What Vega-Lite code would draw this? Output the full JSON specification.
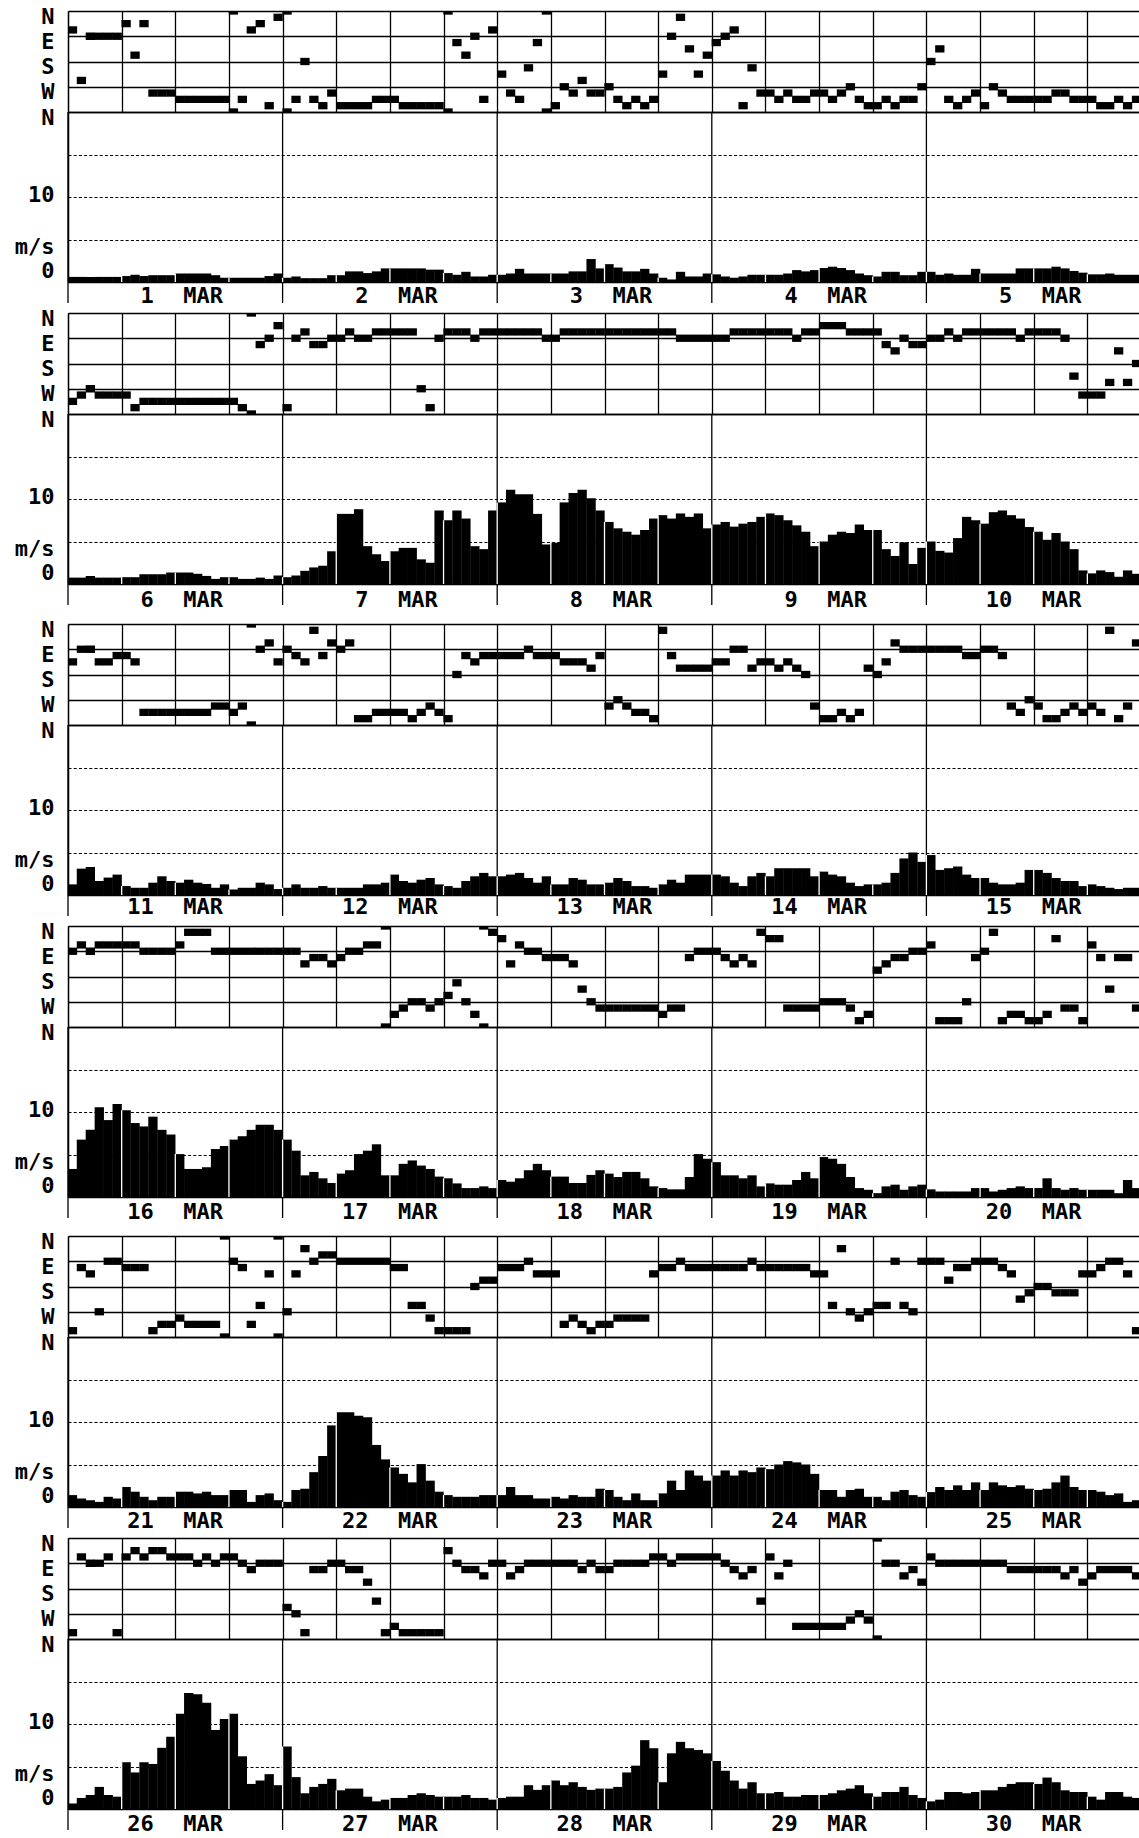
{"$schema":"https://vega.github.io/schema/vega-lite/v6.json","background":"white","padding":{"left":14,"top":5,"right":0,"bottom":0},"config":{"view":{"stroke":null},"axis":{"domainColor":"black","domainWidth":1.3,"gridColor":"black","gridWidth":1.3,"labelColor":"black","labelFont":"DejaVu Sans Mono","labelFontWeight":"bold","labelFontSize":22,"labelPadding":14,"labelBound":false,"labelOverlap":false,"labelFlush":false,"ticks":false,"title":null}},
"datasets":{
"days":[{"h":0},{"h":24},{"h":48},{"h":72},{"h":96}],
"labels":[{"p":1,"day":"1","m":"MAR","a":9.6,"b":12.9},{"p":1,"day":"2","m":"MAR","a":33.6,"b":36.9},{"p":1,"day":"3","m":"MAR","a":57.6,"b":60.9},{"p":1,"day":"4","m":"MAR","a":81.6,"b":84.9},{"p":1,"day":"5","m":"MAR","a":105.6,"b":108.9},{"p":2,"day":"6","m":"MAR","a":9.6,"b":12.9},{"p":2,"day":"7","m":"MAR","a":33.6,"b":36.9},{"p":2,"day":"8","m":"MAR","a":57.6,"b":60.9},{"p":2,"day":"9","m":"MAR","a":81.6,"b":84.9},{"p":2,"day":"10","m":"MAR","a":105.6,"b":108.9},{"p":3,"day":"11","m":"MAR","a":9.6,"b":12.9},{"p":3,"day":"12","m":"MAR","a":33.6,"b":36.9},{"p":3,"day":"13","m":"MAR","a":57.6,"b":60.9},{"p":3,"day":"14","m":"MAR","a":81.6,"b":84.9},{"p":3,"day":"15","m":"MAR","a":105.6,"b":108.9},{"p":4,"day":"16","m":"MAR","a":9.6,"b":12.9},{"p":4,"day":"17","m":"MAR","a":33.6,"b":36.9},{"p":4,"day":"18","m":"MAR","a":57.6,"b":60.9},{"p":4,"day":"19","m":"MAR","a":81.6,"b":84.9},{"p":4,"day":"20","m":"MAR","a":105.6,"b":108.9},{"p":5,"day":"21","m":"MAR","a":9.6,"b":12.9},{"p":5,"day":"22","m":"MAR","a":33.6,"b":36.9},{"p":5,"day":"23","m":"MAR","a":57.6,"b":60.9},{"p":5,"day":"24","m":"MAR","a":81.6,"b":84.9},{"p":5,"day":"25","m":"MAR","a":105.6,"b":108.9},{"p":6,"day":"26","m":"MAR","a":9.6,"b":12.9},{"p":6,"day":"27","m":"MAR","a":33.6,"b":36.9},{"p":6,"day":"28","m":"MAR","a":57.6,"b":60.9},{"p":6,"day":"29","m":"MAR","a":81.6,"b":84.9},{"p":6,"day":"30","m":"MAR","a":105.6,"b":108.9}],
"d1":[{"h":0,"k":3},{"h":1,"k":11},{"h":2,"k":4},{"h":3,"k":4},{"h":4,"k":4},{"h":5,"k":4},{"h":6,"k":2},{"h":7,"k":7},{"h":8,"k":2},{"h":9,"k":13},{"h":10,"k":13},{"h":11,"k":13},{"h":12,"k":14},{"h":13,"k":14},{"h":14,"k":14},{"h":15,"k":14},{"h":16,"k":14},{"h":17,"k":14},{"h":18,"k":0},{"h":18,"k":16},{"h":19,"k":14},{"h":20,"k":3},{"h":21,"k":2},{"h":22,"k":15},{"h":23,"k":1},{"h":24,"k":0},{"h":24,"k":16},{"h":25,"k":14},{"h":26,"k":8},{"h":27,"k":14},{"h":28,"k":15},{"h":29,"k":13},{"h":30,"k":15},{"h":31,"k":15},{"h":32,"k":15},{"h":33,"k":15},{"h":34,"k":14},{"h":35,"k":14},{"h":36,"k":14},{"h":37,"k":15},{"h":38,"k":15},{"h":39,"k":15},{"h":40,"k":15},{"h":41,"k":15},{"h":42,"k":0},{"h":42,"k":16},{"h":43,"k":5},{"h":44,"k":7},{"h":45,"k":4},{"h":46,"k":14},{"h":47,"k":3},{"h":48,"k":10},{"h":49,"k":13},{"h":50,"k":14},{"h":51,"k":9},{"h":52,"k":5},{"h":53,"k":0},{"h":53,"k":16},{"h":54,"k":15},{"h":55,"k":12},{"h":56,"k":13},{"h":57,"k":11},{"h":58,"k":13},{"h":59,"k":13},{"h":60,"k":12},{"h":61,"k":14},{"h":62,"k":15},{"h":63,"k":14},{"h":64,"k":15},{"h":65,"k":14},{"h":66,"k":10},{"h":67,"k":4},{"h":68,"k":1},{"h":69,"k":6},{"h":70,"k":10},{"h":71,"k":7},{"h":72,"k":5},{"h":73,"k":4},{"h":74,"k":3},{"h":75,"k":15},{"h":76,"k":9},{"h":77,"k":13},{"h":78,"k":13},{"h":79,"k":14},{"h":80,"k":13},{"h":81,"k":14},{"h":82,"k":14},{"h":83,"k":13},{"h":84,"k":13},{"h":85,"k":14},{"h":86,"k":13},{"h":87,"k":12},{"h":88,"k":14},{"h":89,"k":15},{"h":90,"k":15},{"h":91,"k":14},{"h":92,"k":15},{"h":93,"k":14},{"h":94,"k":14},{"h":95,"k":12},{"h":96,"k":8},{"h":97,"k":6},{"h":98,"k":14},{"h":99,"k":15},{"h":100,"k":14},{"h":101,"k":13},{"h":102,"k":15},{"h":103,"k":12},{"h":104,"k":13},{"h":105,"k":14},{"h":106,"k":14},{"h":107,"k":14},{"h":108,"k":14},{"h":109,"k":14},{"h":110,"k":13},{"h":111,"k":13},{"h":112,"k":14},{"h":113,"k":14},{"h":114,"k":14},{"h":115,"k":15},{"h":116,"k":15},{"h":117,"k":14},{"h":118,"k":15},{"h":119,"k":14}],
"s1":[{"h":0,"v":0.6},{"h":1,"v":0.6},{"h":2,"v":0.6},{"h":3,"v":0.6},{"h":4,"v":0.6},{"h":5,"v":0.6},{"h":6,"v":0.7},{"h":7,"v":0.85},{"h":8,"v":0.7},{"h":9,"v":0.8},{"h":10,"v":0.8},{"h":11,"v":0.8},{"h":12,"v":1},{"h":13,"v":1},{"h":14,"v":1},{"h":15,"v":1},{"h":16,"v":0.8},{"h":17,"v":0.5},{"h":18,"v":0.5},{"h":19,"v":0.5},{"h":20,"v":0.5},{"h":21,"v":0.5},{"h":22,"v":0.7},{"h":23,"v":1},{"h":24,"v":0.5},{"h":25,"v":0.65},{"h":26,"v":0.45},{"h":27,"v":0.45},{"h":28,"v":0.45},{"h":29,"v":0.8},{"h":30,"v":0.8},{"h":31,"v":1.25},{"h":32,"v":1.25},{"h":33,"v":1.05},{"h":34,"v":1.25},{"h":35,"v":1.6},{"h":36,"v":1.6},{"h":37,"v":1.6},{"h":38,"v":1.6},{"h":39,"v":1.6},{"h":40,"v":1.45},{"h":41,"v":1.45},{"h":42,"v":1.05},{"h":43,"v":0.85},{"h":44,"v":1.2},{"h":45,"v":0.65},{"h":46,"v":0.65},{"h":47,"v":0.85},{"h":48,"v":0.85},{"h":49,"v":1},{"h":50,"v":1.55},{"h":51,"v":1},{"h":52,"v":1},{"h":53,"v":1},{"h":54,"v":1},{"h":55,"v":1},{"h":56,"v":1.25},{"h":57,"v":1.25},{"h":58,"v":2.7},{"h":59,"v":1.6},{"h":60,"v":2.1},{"h":61,"v":1.7},{"h":62,"v":1.25},{"h":63,"v":1.25},{"h":64,"v":1.55},{"h":65,"v":1},{"h":66,"v":0.5},{"h":67,"v":0.3},{"h":68,"v":1.2},{"h":69,"v":0.65},{"h":70,"v":0.65},{"h":71,"v":1},{"h":72,"v":0.9},{"h":73,"v":0.65},{"h":74,"v":0.5},{"h":75,"v":0.65},{"h":76,"v":0.85},{"h":77,"v":0.85},{"h":78,"v":0.85},{"h":79,"v":0.85},{"h":80,"v":1},{"h":81,"v":1.4},{"h":82,"v":1.25},{"h":83,"v":1.4},{"h":84,"v":1.65},{"h":85,"v":1.8},{"h":86,"v":1.65},{"h":87,"v":1.4},{"h":88,"v":1},{"h":89,"v":0.8},{"h":90,"v":0.65},{"h":91,"v":1.2},{"h":92,"v":1.2},{"h":93,"v":0.8},{"h":94,"v":0.8},{"h":95,"v":1.2},{"h":96,"v":1.2},{"h":97,"v":0.85},{"h":98,"v":1},{"h":99,"v":0.85},{"h":100,"v":0.85},{"h":101,"v":1.55},{"h":102,"v":1},{"h":103,"v":1},{"h":104,"v":1},{"h":105,"v":1},{"h":106,"v":1.6},{"h":107,"v":1.6},{"h":108,"v":1.6},{"h":109,"v":1.6},{"h":110,"v":1.8},{"h":111,"v":1.6},{"h":112,"v":1.3},{"h":113,"v":1.1},{"h":114,"v":0.9},{"h":115,"v":0.9},{"h":116,"v":1},{"h":117,"v":0.85},{"h":118,"v":0.85},{"h":119,"v":0.85}],
"d2":[{"h":0,"k":14},{"h":1,"k":13},{"h":2,"k":12},{"h":3,"k":13},{"h":4,"k":13},{"h":5,"k":13},{"h":6,"k":13},{"h":7,"k":15},{"h":8,"k":14},{"h":9,"k":14},{"h":10,"k":14},{"h":11,"k":14},{"h":12,"k":14},{"h":13,"k":14},{"h":14,"k":14},{"h":15,"k":14},{"h":16,"k":14},{"h":17,"k":14},{"h":18,"k":14},{"h":19,"k":15},{"h":20,"k":0},{"h":20,"k":16},{"h":21,"k":5},{"h":22,"k":4},{"h":23,"k":2},{"h":24,"k":15},{"h":25,"k":4},{"h":26,"k":3},{"h":27,"k":5},{"h":28,"k":5},{"h":29,"k":4},{"h":30,"k":4},{"h":31,"k":3},{"h":32,"k":4},{"h":33,"k":4},{"h":34,"k":3},{"h":35,"k":3},{"h":36,"k":3},{"h":37,"k":3},{"h":38,"k":3},{"h":39,"k":12},{"h":40,"k":15},{"h":41,"k":4},{"h":42,"k":3},{"h":43,"k":3},{"h":44,"k":3},{"h":45,"k":4},{"h":46,"k":3},{"h":47,"k":3},{"h":48,"k":3},{"h":49,"k":3},{"h":50,"k":3},{"h":51,"k":3},{"h":52,"k":3},{"h":53,"k":4},{"h":54,"k":4},{"h":55,"k":3},{"h":56,"k":3},{"h":57,"k":3},{"h":58,"k":3},{"h":59,"k":3},{"h":60,"k":3},{"h":61,"k":3},{"h":62,"k":3},{"h":63,"k":3},{"h":64,"k":3},{"h":65,"k":3},{"h":66,"k":3},{"h":67,"k":3},{"h":68,"k":4},{"h":69,"k":4},{"h":70,"k":4},{"h":71,"k":4},{"h":72,"k":4},{"h":73,"k":4},{"h":74,"k":3},{"h":75,"k":3},{"h":76,"k":3},{"h":77,"k":3},{"h":78,"k":3},{"h":79,"k":3},{"h":80,"k":3},{"h":81,"k":4},{"h":82,"k":3},{"h":83,"k":3},{"h":84,"k":2},{"h":85,"k":2},{"h":86,"k":2},{"h":87,"k":3},{"h":88,"k":3},{"h":89,"k":3},{"h":90,"k":3},{"h":91,"k":5},{"h":92,"k":6},{"h":93,"k":4},{"h":94,"k":5},{"h":95,"k":5},{"h":96,"k":4},{"h":97,"k":4},{"h":98,"k":3},{"h":99,"k":4},{"h":100,"k":3},{"h":101,"k":3},{"h":102,"k":3},{"h":103,"k":3},{"h":104,"k":3},{"h":105,"k":3},{"h":106,"k":4},{"h":107,"k":3},{"h":108,"k":3},{"h":109,"k":3},{"h":110,"k":3},{"h":111,"k":4},{"h":112,"k":10},{"h":113,"k":13},{"h":114,"k":13},{"h":115,"k":13},{"h":116,"k":11},{"h":117,"k":6},{"h":118,"k":11},{"h":119,"k":8}],
"s2":[{"h":0,"v":0.75},{"h":1,"v":0.75},{"h":2,"v":0.95},{"h":3,"v":0.75},{"h":4,"v":0.75},{"h":5,"v":0.75},{"h":6,"v":0.8},{"h":7,"v":0.8},{"h":8,"v":1.15},{"h":9,"v":1.15},{"h":10,"v":1.15},{"h":11,"v":1.35},{"h":12,"v":1.35},{"h":13,"v":1.35},{"h":14,"v":1.2},{"h":15,"v":0.95},{"h":16,"v":0.6},{"h":17,"v":0.8},{"h":18,"v":0.8},{"h":19,"v":0.6},{"h":20,"v":0.6},{"h":21,"v":0.75},{"h":22,"v":0.6},{"h":23,"v":1},{"h":24,"v":0.8},{"h":25,"v":1},{"h":26,"v":1.55},{"h":27,"v":1.95},{"h":28,"v":2.15},{"h":29,"v":3.85},{"h":30,"v":8.25},{"h":31,"v":8.25},{"h":32,"v":8.8},{"h":33,"v":4.45},{"h":34,"v":3.5},{"h":35,"v":2.7},{"h":36,"v":3.85},{"h":37,"v":4.25},{"h":38,"v":4.25},{"h":39,"v":2.9},{"h":40,"v":2.5},{"h":41,"v":8.65},{"h":42,"v":7.5},{"h":43,"v":8.65},{"h":44,"v":7.7},{"h":45,"v":4.45},{"h":46,"v":4.1},{"h":47,"v":8.65},{"h":48,"v":9.6},{"h":49,"v":11.1},{"h":50,"v":10.55},{"h":51,"v":10.55},{"h":52,"v":8.25},{"h":53,"v":4.65},{"h":54,"v":4.85},{"h":55,"v":9.6},{"h":56,"v":10.7},{"h":57,"v":11.1},{"h":58,"v":10.1},{"h":59,"v":8.65},{"h":60,"v":7.3},{"h":61,"v":6.55},{"h":62,"v":6.15},{"h":63,"v":5.8},{"h":64,"v":6.35},{"h":65,"v":7.7},{"h":66,"v":8.1},{"h":67,"v":7.7},{"h":68,"v":8.3},{"h":69,"v":7.9},{"h":70,"v":8.3},{"h":71,"v":6.55},{"h":72,"v":7},{"h":73,"v":7.3},{"h":74,"v":6.75},{"h":75,"v":7.1},{"h":76,"v":7.3},{"h":77,"v":7.9},{"h":78,"v":8.3},{"h":79,"v":8.1},{"h":80,"v":7.5},{"h":81,"v":6.9},{"h":82,"v":6.15},{"h":83,"v":4.45},{"h":84,"v":5},{"h":85,"v":5.8},{"h":86,"v":6.15},{"h":87,"v":6},{"h":88,"v":7},{"h":89,"v":6.35},{"h":90,"v":6.35},{"h":91,"v":4.1},{"h":92,"v":3.3},{"h":93,"v":4.9},{"h":94,"v":2.35},{"h":95,"v":4.25},{"h":96,"v":5},{"h":97,"v":3.9},{"h":98,"v":3.7},{"h":99,"v":5.4},{"h":100,"v":7.9},{"h":101,"v":7.5},{"h":102,"v":7.1},{"h":103,"v":8.45},{"h":104,"v":8.65},{"h":105,"v":8.1},{"h":106,"v":7.7},{"h":107,"v":6.7},{"h":108,"v":6.15},{"h":109,"v":5.2},{"h":110,"v":6},{"h":111,"v":5},{"h":112,"v":4.1},{"h":113,"v":1.6},{"h":114,"v":1.25},{"h":115,"v":1.6},{"h":116,"v":1.4},{"h":117,"v":0.85},{"h":118,"v":1.6},{"h":119,"v":1.2}],
"d3":[{"h":0,"k":6},{"h":1,"k":4},{"h":2,"k":4},{"h":3,"k":6},{"h":4,"k":6},{"h":5,"k":5},{"h":6,"k":5},{"h":7,"k":6},{"h":8,"k":14},{"h":9,"k":14},{"h":10,"k":14},{"h":11,"k":14},{"h":12,"k":14},{"h":13,"k":14},{"h":14,"k":14},{"h":15,"k":14},{"h":16,"k":13},{"h":17,"k":13},{"h":18,"k":14},{"h":19,"k":13},{"h":20,"k":0},{"h":20,"k":16},{"h":21,"k":4},{"h":22,"k":3},{"h":23,"k":6},{"h":24,"k":4},{"h":25,"k":5},{"h":26,"k":6},{"h":27,"k":1},{"h":28,"k":5},{"h":29,"k":3},{"h":30,"k":4},{"h":31,"k":3},{"h":32,"k":15},{"h":33,"k":15},{"h":34,"k":14},{"h":35,"k":14},{"h":36,"k":14},{"h":37,"k":14},{"h":38,"k":15},{"h":39,"k":14},{"h":40,"k":13},{"h":41,"k":14},{"h":42,"k":15},{"h":43,"k":8},{"h":44,"k":5},{"h":45,"k":6},{"h":46,"k":5},{"h":47,"k":5},{"h":48,"k":5},{"h":49,"k":5},{"h":50,"k":5},{"h":51,"k":4},{"h":52,"k":5},{"h":53,"k":5},{"h":54,"k":5},{"h":55,"k":6},{"h":56,"k":6},{"h":57,"k":6},{"h":58,"k":7},{"h":59,"k":5},{"h":60,"k":13},{"h":61,"k":12},{"h":62,"k":13},{"h":63,"k":14},{"h":64,"k":14},{"h":65,"k":15},{"h":66,"k":1},{"h":67,"k":5},{"h":68,"k":7},{"h":69,"k":7},{"h":70,"k":7},{"h":71,"k":7},{"h":72,"k":6},{"h":73,"k":6},{"h":74,"k":4},{"h":75,"k":4},{"h":76,"k":7},{"h":77,"k":6},{"h":78,"k":6},{"h":79,"k":7},{"h":80,"k":6},{"h":81,"k":7},{"h":82,"k":8},{"h":83,"k":13},{"h":84,"k":15},{"h":85,"k":15},{"h":86,"k":14},{"h":87,"k":15},{"h":88,"k":14},{"h":89,"k":7},{"h":90,"k":8},{"h":91,"k":6},{"h":92,"k":3},{"h":93,"k":4},{"h":94,"k":4},{"h":95,"k":4},{"h":96,"k":4},{"h":97,"k":4},{"h":98,"k":4},{"h":99,"k":4},{"h":100,"k":5},{"h":101,"k":5},{"h":102,"k":4},{"h":103,"k":4},{"h":104,"k":5},{"h":105,"k":13},{"h":106,"k":14},{"h":107,"k":12},{"h":108,"k":13},{"h":109,"k":15},{"h":110,"k":15},{"h":111,"k":14},{"h":112,"k":13},{"h":113,"k":14},{"h":114,"k":13},{"h":115,"k":14},{"h":116,"k":1},{"h":117,"k":15},{"h":118,"k":13},{"h":119,"k":3}],
"s3":[{"h":0,"v":1.25},{"h":1,"v":3.1},{"h":2,"v":3.3},{"h":3,"v":1.65},{"h":4,"v":2.05},{"h":5,"v":2.4},{"h":6,"v":1.05},{"h":7,"v":0.85},{"h":8,"v":0.85},{"h":9,"v":1.45},{"h":10,"v":2.2},{"h":11,"v":1.65},{"h":12,"v":1.45},{"h":13,"v":1.8},{"h":14,"v":1.45},{"h":15,"v":1.3},{"h":16,"v":0.85},{"h":17,"v":1.25},{"h":18,"v":0.65},{"h":19,"v":0.85},{"h":20,"v":0.85},{"h":21,"v":1.45},{"h":22,"v":1.25},{"h":23,"v":0.7},{"h":24,"v":0.85},{"h":25,"v":1.25},{"h":26,"v":0.85},{"h":27,"v":0.85},{"h":28,"v":1.05},{"h":29,"v":0.85},{"h":30,"v":0.85},{"h":31,"v":0.85},{"h":32,"v":0.85},{"h":33,"v":1.25},{"h":34,"v":1.25},{"h":35,"v":1.45},{"h":36,"v":2.4},{"h":37,"v":1.65},{"h":38,"v":1.45},{"h":39,"v":1.8},{"h":40,"v":2},{"h":41,"v":1.25},{"h":42,"v":1.05},{"h":43,"v":0.85},{"h":44,"v":1.65},{"h":45,"v":2.2},{"h":46,"v":2.6},{"h":47,"v":2.2},{"h":48,"v":2.2},{"h":49,"v":2.4},{"h":50,"v":2.6},{"h":51,"v":2},{"h":52,"v":1.45},{"h":53,"v":2.2},{"h":54,"v":1.25},{"h":55,"v":1.25},{"h":56,"v":2},{"h":57,"v":1.8},{"h":58,"v":1.25},{"h":59,"v":1.25},{"h":60,"v":1.45},{"h":61,"v":2},{"h":62,"v":1.65},{"h":63,"v":1.05},{"h":64,"v":1.05},{"h":65,"v":0.85},{"h":66,"v":1.25},{"h":67,"v":1.8},{"h":68,"v":1.45},{"h":69,"v":2.4},{"h":70,"v":2.4},{"h":71,"v":2.4},{"h":72,"v":2.4},{"h":73,"v":2.2},{"h":74,"v":1.45},{"h":75,"v":1.05},{"h":76,"v":2.2},{"h":77,"v":2.6},{"h":78,"v":2.2},{"h":79,"v":3.15},{"h":80,"v":3.15},{"h":81,"v":3.15},{"h":82,"v":3.15},{"h":83,"v":2.2},{"h":84,"v":2.75},{"h":85,"v":2.4},{"h":86,"v":2.2},{"h":87,"v":1.45},{"h":88,"v":1.05},{"h":89,"v":1.25},{"h":90,"v":1.25},{"h":91,"v":1.45},{"h":92,"v":2.6},{"h":93,"v":4.3},{"h":94,"v":5},{"h":95,"v":3.9},{"h":96,"v":4.7},{"h":97,"v":2.95},{"h":98,"v":3.15},{"h":99,"v":3.35},{"h":100,"v":2.4},{"h":101,"v":2},{"h":102,"v":2},{"h":103,"v":1.45},{"h":104,"v":1.25},{"h":105,"v":1.25},{"h":106,"v":1.45},{"h":107,"v":2.95},{"h":108,"v":2.95},{"h":109,"v":2.6},{"h":110,"v":2},{"h":111,"v":1.65},{"h":112,"v":1.65},{"h":113,"v":1.05},{"h":114,"v":1.25},{"h":115,"v":1.05},{"h":116,"v":0.85},{"h":117,"v":0.7},{"h":118,"v":0.85},{"h":119,"v":0.85}],
"d4":[{"h":0,"k":4},{"h":1,"k":3},{"h":2,"k":4},{"h":3,"k":3},{"h":4,"k":3},{"h":5,"k":3},{"h":6,"k":3},{"h":7,"k":3},{"h":8,"k":4},{"h":9,"k":4},{"h":10,"k":4},{"h":11,"k":4},{"h":12,"k":3},{"h":13,"k":1},{"h":14,"k":1},{"h":15,"k":1},{"h":16,"k":4},{"h":17,"k":4},{"h":18,"k":4},{"h":19,"k":4},{"h":20,"k":4},{"h":21,"k":4},{"h":22,"k":4},{"h":23,"k":4},{"h":24,"k":4},{"h":25,"k":4},{"h":26,"k":6},{"h":27,"k":5},{"h":28,"k":5},{"h":29,"k":6},{"h":30,"k":5},{"h":31,"k":4},{"h":32,"k":4},{"h":33,"k":3},{"h":34,"k":3},{"h":35,"k":0},{"h":35,"k":16},{"h":36,"k":14},{"h":37,"k":13},{"h":38,"k":12},{"h":39,"k":12},{"h":40,"k":13},{"h":41,"k":12},{"h":42,"k":11},{"h":43,"k":9},{"h":44,"k":12},{"h":45,"k":14},{"h":46,"k":0},{"h":46,"k":16},{"h":47,"k":1},{"h":48,"k":2},{"h":49,"k":6},{"h":50,"k":3},{"h":51,"k":4},{"h":52,"k":4},{"h":53,"k":5},{"h":54,"k":5},{"h":55,"k":5},{"h":56,"k":6},{"h":57,"k":10},{"h":58,"k":12},{"h":59,"k":13},{"h":60,"k":13},{"h":61,"k":13},{"h":62,"k":13},{"h":63,"k":13},{"h":64,"k":13},{"h":65,"k":13},{"h":66,"k":14},{"h":67,"k":13},{"h":68,"k":13},{"h":69,"k":5},{"h":70,"k":4},{"h":71,"k":4},{"h":72,"k":4},{"h":73,"k":5},{"h":74,"k":6},{"h":75,"k":5},{"h":76,"k":6},{"h":77,"k":1},{"h":78,"k":2},{"h":79,"k":2},{"h":80,"k":13},{"h":81,"k":13},{"h":82,"k":13},{"h":83,"k":13},{"h":84,"k":12},{"h":85,"k":12},{"h":86,"k":12},{"h":87,"k":13},{"h":88,"k":15},{"h":89,"k":14},{"h":90,"k":7},{"h":91,"k":6},{"h":92,"k":5},{"h":93,"k":5},{"h":94,"k":4},{"h":95,"k":4},{"h":96,"k":3},{"h":97,"k":15},{"h":98,"k":15},{"h":99,"k":15},{"h":100,"k":12},{"h":101,"k":5},{"h":102,"k":4},{"h":103,"k":1},{"h":104,"k":15},{"h":105,"k":14},{"h":106,"k":14},{"h":107,"k":15},{"h":108,"k":15},{"h":109,"k":14},{"h":110,"k":2},{"h":111,"k":13},{"h":112,"k":13},{"h":113,"k":15},{"h":114,"k":3},{"h":115,"k":5},{"h":116,"k":10},{"h":117,"k":5},{"h":118,"k":5},{"h":119,"k":13}],
"s4":[{"h":0,"v":3.3},{"h":1,"v":6.75},{"h":2,"v":7.9},{"h":3,"v":10.55},{"h":4,"v":9.05},{"h":5,"v":10.95},{"h":6,"v":10.2},{"h":7,"v":8.7},{"h":8,"v":8.3},{"h":9,"v":9.45},{"h":10,"v":7.9},{"h":11,"v":7.35},{"h":12,"v":5.05},{"h":13,"v":3.3},{"h":14,"v":3.3},{"h":15,"v":3.5},{"h":16,"v":5.65},{"h":17,"v":6},{"h":18,"v":6.75},{"h":19,"v":7.15},{"h":20,"v":7.9},{"h":21,"v":8.5},{"h":22,"v":8.5},{"h":23,"v":7.9},{"h":24,"v":6.75},{"h":25,"v":5.45},{"h":26,"v":2.55},{"h":27,"v":2.95},{"h":28,"v":2.2},{"h":29,"v":1.65},{"h":30,"v":2.75},{"h":31,"v":3.15},{"h":32,"v":5.05},{"h":33,"v":5.45},{"h":34,"v":6.2},{"h":35,"v":2.55},{"h":36,"v":2.55},{"h":37,"v":3.9},{"h":38,"v":4.3},{"h":39,"v":3.7},{"h":40,"v":3.3},{"h":41,"v":2.4},{"h":42,"v":2.2},{"h":43,"v":1.6},{"h":44,"v":1.05},{"h":45,"v":1.05},{"h":46,"v":1.25},{"h":47,"v":1.05},{"h":48,"v":2},{"h":49,"v":1.8},{"h":50,"v":2.2},{"h":51,"v":3.15},{"h":52,"v":3.9},{"h":53,"v":3.15},{"h":54,"v":2.4},{"h":55,"v":2.4},{"h":56,"v":1.65},{"h":57,"v":1.65},{"h":58,"v":2.6},{"h":59,"v":3.15},{"h":60,"v":2.75},{"h":61,"v":2.35},{"h":62,"v":2.95},{"h":63,"v":2.95},{"h":64,"v":2.2},{"h":65,"v":1.25},{"h":66,"v":1.05},{"h":67,"v":0.9},{"h":68,"v":0.9},{"h":69,"v":2.35},{"h":70,"v":5.05},{"h":71,"v":4.5},{"h":72,"v":4.1},{"h":73,"v":2.55},{"h":74,"v":2.55},{"h":75,"v":2.2},{"h":76,"v":2.55},{"h":77,"v":1.25},{"h":78,"v":1.6},{"h":79,"v":1.45},{"h":80,"v":1.45},{"h":81,"v":2},{"h":82,"v":2.95},{"h":83,"v":2.2},{"h":84,"v":4.7},{"h":85,"v":4.5},{"h":86,"v":3.9},{"h":87,"v":2.35},{"h":88,"v":1.05},{"h":89,"v":0.85},{"h":90,"v":0.45},{"h":91,"v":1.25},{"h":92,"v":1.45},{"h":93,"v":0.85},{"h":94,"v":1.25},{"h":95,"v":1.45},{"h":96,"v":0.9},{"h":97,"v":0.65},{"h":98,"v":0.65},{"h":99,"v":0.65},{"h":100,"v":0.65},{"h":101,"v":1.05},{"h":102,"v":1.05},{"h":103,"v":0.65},{"h":104,"v":0.85},{"h":105,"v":1.05},{"h":106,"v":1.25},{"h":107,"v":1.05},{"h":108,"v":1.05},{"h":109,"v":2.2},{"h":110,"v":1.05},{"h":111,"v":0.85},{"h":112,"v":1.05},{"h":113,"v":0.85},{"h":114,"v":0.85},{"h":115,"v":0.85},{"h":116,"v":0.85},{"h":117,"v":0.45},{"h":118,"v":2},{"h":119,"v":1.05}],
"d5":[{"h":0,"k":15},{"h":1,"k":5},{"h":2,"k":6},{"h":3,"k":12},{"h":4,"k":4},{"h":5,"k":4},{"h":6,"k":5},{"h":7,"k":5},{"h":8,"k":5},{"h":9,"k":15},{"h":10,"k":14},{"h":11,"k":14},{"h":12,"k":13},{"h":13,"k":14},{"h":14,"k":14},{"h":15,"k":14},{"h":16,"k":14},{"h":17,"k":0},{"h":17,"k":16},{"h":18,"k":4},{"h":19,"k":5},{"h":20,"k":14},{"h":21,"k":11},{"h":22,"k":6},{"h":23,"k":0},{"h":23,"k":16},{"h":24,"k":12},{"h":25,"k":6},{"h":26,"k":2},{"h":27,"k":4},{"h":28,"k":3},{"h":29,"k":3},{"h":30,"k":4},{"h":31,"k":4},{"h":32,"k":4},{"h":33,"k":4},{"h":34,"k":4},{"h":35,"k":4},{"h":36,"k":5},{"h":37,"k":5},{"h":38,"k":11},{"h":39,"k":11},{"h":40,"k":13},{"h":41,"k":15},{"h":42,"k":15},{"h":43,"k":15},{"h":44,"k":15},{"h":45,"k":8},{"h":46,"k":7},{"h":47,"k":7},{"h":48,"k":5},{"h":49,"k":5},{"h":50,"k":5},{"h":51,"k":4},{"h":52,"k":6},{"h":53,"k":6},{"h":54,"k":6},{"h":55,"k":14},{"h":56,"k":13},{"h":57,"k":14},{"h":58,"k":15},{"h":59,"k":14},{"h":60,"k":14},{"h":61,"k":13},{"h":62,"k":13},{"h":63,"k":13},{"h":64,"k":13},{"h":65,"k":6},{"h":66,"k":5},{"h":67,"k":5},{"h":68,"k":4},{"h":69,"k":5},{"h":70,"k":5},{"h":71,"k":5},{"h":72,"k":5},{"h":73,"k":5},{"h":74,"k":5},{"h":75,"k":5},{"h":76,"k":4},{"h":77,"k":5},{"h":78,"k":5},{"h":79,"k":5},{"h":80,"k":5},{"h":81,"k":5},{"h":82,"k":5},{"h":83,"k":6},{"h":84,"k":6},{"h":85,"k":11},{"h":86,"k":2},{"h":87,"k":12},{"h":88,"k":13},{"h":89,"k":12},{"h":90,"k":11},{"h":91,"k":11},{"h":92,"k":4},{"h":93,"k":11},{"h":94,"k":12},{"h":95,"k":4},{"h":96,"k":4},{"h":97,"k":4},{"h":98,"k":7},{"h":99,"k":5},{"h":100,"k":5},{"h":101,"k":4},{"h":102,"k":4},{"h":103,"k":4},{"h":104,"k":5},{"h":105,"k":6},{"h":106,"k":10},{"h":107,"k":9},{"h":108,"k":8},{"h":109,"k":8},{"h":110,"k":9},{"h":111,"k":9},{"h":112,"k":9},{"h":113,"k":6},{"h":114,"k":6},{"h":115,"k":5},{"h":116,"k":4},{"h":117,"k":4},{"h":118,"k":6},{"h":119,"k":15}],
"s5":[{"h":0,"v":1.4},{"h":1,"v":1},{"h":2,"v":0.8},{"h":3,"v":0.6},{"h":4,"v":1.2},{"h":5,"v":1},{"h":6,"v":2.35},{"h":7,"v":1.8},{"h":8,"v":1.2},{"h":9,"v":0.8},{"h":10,"v":1.2},{"h":11,"v":1.2},{"h":12,"v":1.8},{"h":13,"v":1.8},{"h":14,"v":1.6},{"h":15,"v":1.8},{"h":16,"v":1.4},{"h":17,"v":1.4},{"h":18,"v":2},{"h":19,"v":2},{"h":20,"v":0.6},{"h":21,"v":1.4},{"h":22,"v":1.6},{"h":23,"v":0.8},{"h":24,"v":0.6},{"h":25,"v":2},{"h":26,"v":2.15},{"h":27,"v":4.1},{"h":28,"v":6},{"h":29,"v":9.6},{"h":30,"v":11.15},{"h":31,"v":11.15},{"h":32,"v":10.75},{"h":33,"v":10.55},{"h":34,"v":7.3},{"h":35,"v":5.6},{"h":36,"v":4.65},{"h":37,"v":3.9},{"h":38,"v":2.9},{"h":39,"v":5.05},{"h":40,"v":3.1},{"h":41,"v":1.8},{"h":42,"v":1.4},{"h":43,"v":1.2},{"h":44,"v":1.2},{"h":45,"v":1.2},{"h":46,"v":1.4},{"h":47,"v":1.4},{"h":48,"v":1.4},{"h":49,"v":2.35},{"h":50,"v":1.4},{"h":51,"v":1.4},{"h":52,"v":1},{"h":53,"v":1},{"h":54,"v":1.2},{"h":55,"v":1},{"h":56,"v":1.4},{"h":57,"v":1.2},{"h":58,"v":1.2},{"h":59,"v":2.15},{"h":60,"v":2},{"h":61,"v":1.2},{"h":62,"v":0.8},{"h":63,"v":1.6},{"h":64,"v":0.8},{"h":65,"v":0.8},{"h":66,"v":1.6},{"h":67,"v":3.1},{"h":68,"v":2},{"h":69,"v":4.3},{"h":70,"v":3.7},{"h":71,"v":3.1},{"h":72,"v":3.7},{"h":73,"v":4.3},{"h":74,"v":3.7},{"h":75,"v":4.3},{"h":76,"v":4.1},{"h":77,"v":4.65},{"h":78,"v":4.45},{"h":79,"v":5},{"h":80,"v":5.4},{"h":81,"v":5.25},{"h":82,"v":5},{"h":83,"v":3.9},{"h":84,"v":2},{"h":85,"v":2},{"h":86,"v":1.2},{"h":87,"v":2},{"h":88,"v":2.15},{"h":89,"v":1.2},{"h":90,"v":1.2},{"h":91,"v":0.8},{"h":92,"v":1.8},{"h":93,"v":2},{"h":94,"v":1.4},{"h":95,"v":1.2},{"h":96,"v":1.75},{"h":97,"v":2.35},{"h":98,"v":2},{"h":99,"v":2.55},{"h":100,"v":2},{"h":101,"v":2.9},{"h":102,"v":2},{"h":103,"v":2.9},{"h":104,"v":2.55},{"h":105,"v":2.35},{"h":106,"v":2.55},{"h":107,"v":2.15},{"h":108,"v":2},{"h":109,"v":2.15},{"h":110,"v":2.9},{"h":111,"v":3.7},{"h":112,"v":2.35},{"h":113,"v":2},{"h":114,"v":2},{"h":115,"v":1.8},{"h":116,"v":1.4},{"h":117,"v":1.6},{"h":118,"v":0.6},{"h":119,"v":0.8}],
"d6":[{"h":0,"k":15},{"h":1,"k":3},{"h":2,"k":4},{"h":3,"k":4},{"h":4,"k":3},{"h":5,"k":15},{"h":6,"k":3},{"h":7,"k":2},{"h":8,"k":3},{"h":9,"k":2},{"h":10,"k":2},{"h":11,"k":3},{"h":12,"k":3},{"h":13,"k":3},{"h":14,"k":4},{"h":15,"k":3},{"h":16,"k":4},{"h":17,"k":3},{"h":18,"k":3},{"h":19,"k":4},{"h":20,"k":5},{"h":21,"k":4},{"h":22,"k":4},{"h":23,"k":4},{"h":24,"k":11},{"h":25,"k":12},{"h":26,"k":15},{"h":27,"k":5},{"h":28,"k":5},{"h":29,"k":4},{"h":30,"k":4},{"h":31,"k":5},{"h":32,"k":5},{"h":33,"k":7},{"h":34,"k":10},{"h":35,"k":15},{"h":36,"k":14},{"h":37,"k":15},{"h":38,"k":15},{"h":39,"k":15},{"h":40,"k":15},{"h":41,"k":15},{"h":42,"k":2},{"h":43,"k":4},{"h":44,"k":5},{"h":45,"k":5},{"h":46,"k":6},{"h":47,"k":4},{"h":48,"k":4},{"h":49,"k":6},{"h":50,"k":5},{"h":51,"k":4},{"h":52,"k":4},{"h":53,"k":4},{"h":54,"k":4},{"h":55,"k":4},{"h":56,"k":4},{"h":57,"k":5},{"h":58,"k":4},{"h":59,"k":5},{"h":60,"k":5},{"h":61,"k":4},{"h":62,"k":4},{"h":63,"k":4},{"h":64,"k":4},{"h":65,"k":3},{"h":66,"k":3},{"h":67,"k":4},{"h":68,"k":3},{"h":69,"k":3},{"h":70,"k":3},{"h":71,"k":3},{"h":72,"k":3},{"h":73,"k":4},{"h":74,"k":5},{"h":75,"k":6},{"h":76,"k":5},{"h":77,"k":10},{"h":78,"k":3},{"h":79,"k":6},{"h":80,"k":4},{"h":81,"k":14},{"h":82,"k":14},{"h":83,"k":14},{"h":84,"k":14},{"h":85,"k":14},{"h":86,"k":14},{"h":87,"k":13},{"h":88,"k":12},{"h":89,"k":13},{"h":90,"k":0},{"h":90,"k":16},{"h":91,"k":4},{"h":92,"k":4},{"h":93,"k":6},{"h":94,"k":5},{"h":95,"k":7},{"h":96,"k":3},{"h":97,"k":4},{"h":98,"k":4},{"h":99,"k":4},{"h":100,"k":4},{"h":101,"k":4},{"h":102,"k":4},{"h":103,"k":4},{"h":104,"k":4},{"h":105,"k":5},{"h":106,"k":5},{"h":107,"k":5},{"h":108,"k":5},{"h":109,"k":5},{"h":110,"k":5},{"h":111,"k":6},{"h":112,"k":5},{"h":113,"k":7},{"h":114,"k":6},{"h":115,"k":5},{"h":116,"k":5},{"h":117,"k":5},{"h":118,"k":5},{"h":119,"k":6}],
"s6":[{"h":0,"v":0.65},{"h":1,"v":1.3},{"h":2,"v":1.65},{"h":3,"v":2.6},{"h":4,"v":1.65},{"h":5,"v":1.45},{"h":6,"v":5.5},{"h":7,"v":4.3},{"h":8,"v":5.5},{"h":9,"v":5.3},{"h":10,"v":7.2},{"h":11,"v":8.5},{"h":12,"v":11.2},{"h":13,"v":13.65},{"h":14,"v":13.5},{"h":15,"v":12.5},{"h":16,"v":9.3},{"h":17,"v":10.6},{"h":18,"v":11.2},{"h":19,"v":6.2},{"h":20,"v":2.95},{"h":21,"v":3.35},{"h":22,"v":4.1},{"h":23,"v":2.8},{"h":24,"v":7.35},{"h":25,"v":3.75},{"h":26,"v":1.85},{"h":27,"v":2.6},{"h":28,"v":2.95},{"h":29,"v":3.55},{"h":30,"v":2.2},{"h":31,"v":2.4},{"h":32,"v":2.4},{"h":33,"v":1.45},{"h":34,"v":0.9},{"h":35,"v":1.1},{"h":36,"v":1.3},{"h":37,"v":1.3},{"h":38,"v":1.65},{"h":39,"v":1.85},{"h":40,"v":1.65},{"h":41,"v":1.45},{"h":42,"v":1.45},{"h":43,"v":1.45},{"h":44,"v":1.65},{"h":45,"v":1.3},{"h":46,"v":1.3},{"h":47,"v":1.1},{"h":48,"v":1.3},{"h":49,"v":1.45},{"h":50,"v":1.45},{"h":51,"v":2.8},{"h":52,"v":2.25},{"h":53,"v":2.8},{"h":54,"v":3.35},{"h":55,"v":2.8},{"h":56,"v":3.15},{"h":57,"v":2.6},{"h":58,"v":2.25},{"h":59,"v":2.4},{"h":60,"v":2.4},{"h":61,"v":2.6},{"h":62,"v":4.3},{"h":63,"v":5.1},{"h":64,"v":8.1},{"h":65,"v":7.15},{"h":66,"v":3.15},{"h":67,"v":6.55},{"h":68,"v":7.9},{"h":69,"v":7.15},{"h":70,"v":6.95},{"h":71,"v":6.55},{"h":72,"v":5.65},{"h":73,"v":4.5},{"h":74,"v":3.35},{"h":75,"v":2.4},{"h":76,"v":3.15},{"h":77,"v":1.85},{"h":78,"v":1.85},{"h":79,"v":2},{"h":80,"v":1.45},{"h":81,"v":1.45},{"h":82,"v":1.65},{"h":83,"v":1.65},{"h":84,"v":1.65},{"h":85,"v":1.85},{"h":86,"v":2.2},{"h":87,"v":2.4},{"h":88,"v":2.8},{"h":89,"v":1.85},{"h":90,"v":1.45},{"h":91,"v":2},{"h":92,"v":2},{"h":93,"v":2.6},{"h":94,"v":1.65},{"h":95,"v":1.3},{"h":96,"v":0.9},{"h":97,"v":1.1},{"h":98,"v":2},{"h":99,"v":2},{"h":100,"v":1.85},{"h":101,"v":2},{"h":102,"v":2.2},{"h":103,"v":2.2},{"h":104,"v":2.6},{"h":105,"v":2.95},{"h":106,"v":3.15},{"h":107,"v":3.15},{"h":108,"v":2.95},{"h":109,"v":3.7},{"h":110,"v":3.15},{"h":111,"v":2.2},{"h":112,"v":2},{"h":113,"v":2},{"h":114,"v":1.45},{"h":115,"v":1.1},{"h":116,"v":2},{"h":117,"v":2},{"h":118,"v":1.45},{"h":119,"v":1.3}]
},
"spacing":0,"bounds":"flush",
"vconcat":[
{"width":1073,"height":101,"data":{"name":"d1"},"mark":{"type":"rect","width":9.3,"height":7.3,"xOffset":4.47,"color":"black","clip":true},"encoding":{"x":{"field":"h","type":"quantitative","scale":{"domain":[0,120]},"axis":{"values":[0,6,12,18,24,30,36,42,48,54,60,66,72,78,84,90,96,102,108,114,120],"grid":true,"labels":false}},"y":{"field":"k","type":"quantitative","scale":{"domain":[0,16],"reverse":true},"axis":{"values":[0,4,8,12,16],"grid":true,"labelOffset":5,"labelExpr":"datum.value==4?'E':datum.value==8?'S':datum.value==12?'W':'N'"}}}},
{"width":1073,"height":170,"encoding":{"x":{"field":"h","type":"quantitative","scale":{"domain":[0,120],"padding":0},"axis":{"values":[0,120],"labels":false}}},"layer":[
{"data":{"name":"days"},"mark":{"type":"rule","color":"black","strokeWidth":1.3}},
{"data":{"name":"s1"},"mark":{"type":"bar","orient":"vertical","width":9.3,"xOffset":4.47,"color":"black","clip":true},"encoding":{"y":{"field":"v","type":"quantitative","scale":{"domain":[0,19.8]},"axis":{"values":[0,5,10,15],"grid":true,"gridDash":[3,2.2],"gridWidth":1.1,"labelOffset":{"condition":[{"test":"datum.value==0","value":-12},{"test":"datum.value==5","value":7}],"value":-3},"labelExpr":"datum.value==0?'0':datum.value==5?'m/s':datum.value==10?'10':''"}}}},
{"data":{"name":"s1"},"transform":[{"filter":"datum.h>0&&datum.h%6==0"}],"mark":{"type":"rule","color":"white","strokeWidth":1.3},"encoding":{"y":{"field":"v","type":"quantitative"},"y2":{"datum":0}}}]},
{"width":1073,"height":31,"encoding":{"y":{"datum":14,"type":"quantitative","scale":{"domain":[0,31],"reverse":true},"axis":null}},"layer":[
{"data":{"name":"days"},"mark":{"type":"rule","color":"black","strokeWidth":1.3},"encoding":{"x":{"field":"h","type":"quantitative","scale":{"domain":[0,120]},"axis":null},"y":{"datum":0,"type":"quantitative"},"y2":{"datum":21}}},
{"data":{"name":"labels"},"transform":[{"filter":"datum.p==1"}],"mark":{"type":"text","font":"DejaVu Sans Mono","fontWeight":"bold","fontSize":22,"align":"right","color":"black"},"encoding":{"x":{"field":"a","type":"quantitative"},"text":{"field":"day"}}},
{"data":{"name":"labels"},"transform":[{"filter":"datum.p==1"}],"mark":{"type":"text","font":"DejaVu Sans Mono","fontWeight":"bold","fontSize":22,"align":"left","color":"black"},"encoding":{"x":{"field":"b","type":"quantitative"},"text":{"field":"m"}}}]},
{"width":1073,"height":101,"data":{"name":"d2"},"mark":{"type":"rect","width":9.3,"height":7.3,"xOffset":4.47,"color":"black","clip":true},"encoding":{"x":{"field":"h","type":"quantitative","scale":{"domain":[0,120]},"axis":{"values":[0,6,12,18,24,30,36,42,48,54,60,66,72,78,84,90,96,102,108,114,120],"grid":true,"labels":false}},"y":{"field":"k","type":"quantitative","scale":{"domain":[0,16],"reverse":true},"axis":{"values":[0,4,8,12,16],"grid":true,"labelOffset":5,"labelExpr":"datum.value==4?'E':datum.value==8?'S':datum.value==12?'W':'N'"}}}},
{"width":1073,"height":170,"encoding":{"x":{"field":"h","type":"quantitative","scale":{"domain":[0,120],"padding":0},"axis":{"values":[0,120],"labels":false}}},"layer":[
{"data":{"name":"days"},"mark":{"type":"rule","color":"black","strokeWidth":1.3}},
{"data":{"name":"s2"},"mark":{"type":"bar","orient":"vertical","width":9.3,"xOffset":4.47,"color":"black","clip":true},"encoding":{"y":{"field":"v","type":"quantitative","scale":{"domain":[0,19.8]},"axis":{"values":[0,5,10,15],"grid":true,"gridDash":[3,2.2],"gridWidth":1.1,"labelOffset":{"condition":[{"test":"datum.value==0","value":-12},{"test":"datum.value==5","value":7}],"value":-3},"labelExpr":"datum.value==0?'0':datum.value==5?'m/s':datum.value==10?'10':''"}}}},
{"data":{"name":"s2"},"transform":[{"filter":"datum.h>0&&datum.h%6==0"}],"mark":{"type":"rule","color":"white","strokeWidth":1.3},"encoding":{"y":{"field":"v","type":"quantitative"},"y2":{"datum":0}}}]},
{"width":1073,"height":40,"encoding":{"y":{"datum":16,"type":"quantitative","scale":{"domain":[0,40],"reverse":true},"axis":null}},"layer":[
{"data":{"name":"days"},"mark":{"type":"rule","color":"black","strokeWidth":1.3},"encoding":{"x":{"field":"h","type":"quantitative","scale":{"domain":[0,120]},"axis":null},"y":{"datum":0,"type":"quantitative"},"y2":{"datum":21}}},
{"data":{"name":"labels"},"transform":[{"filter":"datum.p==2"}],"mark":{"type":"text","font":"DejaVu Sans Mono","fontWeight":"bold","fontSize":22,"align":"right","color":"black"},"encoding":{"x":{"field":"a","type":"quantitative"},"text":{"field":"day"}}},
{"data":{"name":"labels"},"transform":[{"filter":"datum.p==2"}],"mark":{"type":"text","font":"DejaVu Sans Mono","fontWeight":"bold","fontSize":22,"align":"left","color":"black"},"encoding":{"x":{"field":"b","type":"quantitative"},"text":{"field":"m"}}}]},
{"width":1073,"height":101,"data":{"name":"d3"},"mark":{"type":"rect","width":9.3,"height":7.3,"xOffset":4.47,"color":"black","clip":true},"encoding":{"x":{"field":"h","type":"quantitative","scale":{"domain":[0,120]},"axis":{"values":[0,6,12,18,24,30,36,42,48,54,60,66,72,78,84,90,96,102,108,114,120],"grid":true,"labels":false}},"y":{"field":"k","type":"quantitative","scale":{"domain":[0,16],"reverse":true},"axis":{"values":[0,4,8,12,16],"grid":true,"labelOffset":5,"labelExpr":"datum.value==4?'E':datum.value==8?'S':datum.value==12?'W':'N'"}}}},
{"width":1073,"height":170,"encoding":{"x":{"field":"h","type":"quantitative","scale":{"domain":[0,120],"padding":0},"axis":{"values":[0,120],"labels":false}}},"layer":[
{"data":{"name":"days"},"mark":{"type":"rule","color":"black","strokeWidth":1.3}},
{"data":{"name":"s3"},"mark":{"type":"bar","orient":"vertical","width":9.3,"xOffset":4.47,"color":"black","clip":true},"encoding":{"y":{"field":"v","type":"quantitative","scale":{"domain":[0,19.8]},"axis":{"values":[0,5,10,15],"grid":true,"gridDash":[3,2.2],"gridWidth":1.1,"labelOffset":{"condition":[{"test":"datum.value==0","value":-12},{"test":"datum.value==5","value":7}],"value":-3},"labelExpr":"datum.value==0?'0':datum.value==5?'m/s':datum.value==10?'10':''"}}}},
{"data":{"name":"s3"},"transform":[{"filter":"datum.h>0&&datum.h%6==0"}],"mark":{"type":"rule","color":"white","strokeWidth":1.3},"encoding":{"y":{"field":"v","type":"quantitative"},"y2":{"datum":0}}}]},
{"width":1073,"height":31,"encoding":{"y":{"datum":12,"type":"quantitative","scale":{"domain":[0,31],"reverse":true},"axis":null}},"layer":[
{"data":{"name":"days"},"mark":{"type":"rule","color":"black","strokeWidth":1.3},"encoding":{"x":{"field":"h","type":"quantitative","scale":{"domain":[0,120]},"axis":null},"y":{"datum":0,"type":"quantitative"},"y2":{"datum":21}}},
{"data":{"name":"labels"},"transform":[{"filter":"datum.p==3"}],"mark":{"type":"text","font":"DejaVu Sans Mono","fontWeight":"bold","fontSize":22,"align":"right","color":"black"},"encoding":{"x":{"field":"a","type":"quantitative"},"text":{"field":"day"}}},
{"data":{"name":"labels"},"transform":[{"filter":"datum.p==3"}],"mark":{"type":"text","font":"DejaVu Sans Mono","fontWeight":"bold","fontSize":22,"align":"left","color":"black"},"encoding":{"x":{"field":"b","type":"quantitative"},"text":{"field":"m"}}}]},
{"width":1073,"height":101,"data":{"name":"d4"},"mark":{"type":"rect","width":9.3,"height":7.3,"xOffset":4.47,"color":"black","clip":true},"encoding":{"x":{"field":"h","type":"quantitative","scale":{"domain":[0,120]},"axis":{"values":[0,6,12,18,24,30,36,42,48,54,60,66,72,78,84,90,96,102,108,114,120],"grid":true,"labels":false}},"y":{"field":"k","type":"quantitative","scale":{"domain":[0,16],"reverse":true},"axis":{"values":[0,4,8,12,16],"grid":true,"labelOffset":5,"labelExpr":"datum.value==4?'E':datum.value==8?'S':datum.value==12?'W':'N'"}}}},
{"width":1073,"height":170,"encoding":{"x":{"field":"h","type":"quantitative","scale":{"domain":[0,120],"padding":0},"axis":{"values":[0,120],"labels":false}}},"layer":[
{"data":{"name":"days"},"mark":{"type":"rule","color":"black","strokeWidth":1.3}},
{"data":{"name":"s4"},"mark":{"type":"bar","orient":"vertical","width":9.3,"xOffset":4.47,"color":"black","clip":true},"encoding":{"y":{"field":"v","type":"quantitative","scale":{"domain":[0,19.8]},"axis":{"values":[0,5,10,15],"grid":true,"gridDash":[3,2.2],"gridWidth":1.1,"labelOffset":{"condition":[{"test":"datum.value==0","value":-12},{"test":"datum.value==5","value":7}],"value":-3},"labelExpr":"datum.value==0?'0':datum.value==5?'m/s':datum.value==10?'10':''"}}}},
{"data":{"name":"s4"},"transform":[{"filter":"datum.h>0&&datum.h%6==0"}],"mark":{"type":"rule","color":"white","strokeWidth":1.3},"encoding":{"y":{"field":"v","type":"quantitative"},"y2":{"datum":0}}}]},
{"width":1073,"height":39,"encoding":{"y":{"datum":14.5,"type":"quantitative","scale":{"domain":[0,39],"reverse":true},"axis":null}},"layer":[
{"data":{"name":"days"},"mark":{"type":"rule","color":"black","strokeWidth":1.3},"encoding":{"x":{"field":"h","type":"quantitative","scale":{"domain":[0,120]},"axis":null},"y":{"datum":0,"type":"quantitative"},"y2":{"datum":21}}},
{"data":{"name":"labels"},"transform":[{"filter":"datum.p==4"}],"mark":{"type":"text","font":"DejaVu Sans Mono","fontWeight":"bold","fontSize":22,"align":"right","color":"black"},"encoding":{"x":{"field":"a","type":"quantitative"},"text":{"field":"day"}}},
{"data":{"name":"labels"},"transform":[{"filter":"datum.p==4"}],"mark":{"type":"text","font":"DejaVu Sans Mono","fontWeight":"bold","fontSize":22,"align":"left","color":"black"},"encoding":{"x":{"field":"b","type":"quantitative"},"text":{"field":"m"}}}]},
{"width":1073,"height":101,"data":{"name":"d5"},"mark":{"type":"rect","width":9.3,"height":7.3,"xOffset":4.47,"color":"black","clip":true},"encoding":{"x":{"field":"h","type":"quantitative","scale":{"domain":[0,120]},"axis":{"values":[0,6,12,18,24,30,36,42,48,54,60,66,72,78,84,90,96,102,108,114,120],"grid":true,"labels":false}},"y":{"field":"k","type":"quantitative","scale":{"domain":[0,16],"reverse":true},"axis":{"values":[0,4,8,12,16],"grid":true,"labelOffset":5,"labelExpr":"datum.value==4?'E':datum.value==8?'S':datum.value==12?'W':'N'"}}}},
{"width":1073,"height":170,"encoding":{"x":{"field":"h","type":"quantitative","scale":{"domain":[0,120],"padding":0},"axis":{"values":[0,120],"labels":false}}},"layer":[
{"data":{"name":"days"},"mark":{"type":"rule","color":"black","strokeWidth":1.3}},
{"data":{"name":"s5"},"mark":{"type":"bar","orient":"vertical","width":9.3,"xOffset":4.47,"color":"black","clip":true},"encoding":{"y":{"field":"v","type":"quantitative","scale":{"domain":[0,19.8]},"axis":{"values":[0,5,10,15],"grid":true,"gridDash":[3,2.2],"gridWidth":1.1,"labelOffset":{"condition":[{"test":"datum.value==0","value":-12},{"test":"datum.value==5","value":7}],"value":-3},"labelExpr":"datum.value==0?'0':datum.value==5?'m/s':datum.value==10?'10':''"}}}},
{"data":{"name":"s5"},"transform":[{"filter":"datum.h>0&&datum.h%6==0"}],"mark":{"type":"rule","color":"white","strokeWidth":1.3},"encoding":{"y":{"field":"v","type":"quantitative"},"y2":{"datum":0}}}]},
{"width":1073,"height":31,"encoding":{"y":{"datum":14,"type":"quantitative","scale":{"domain":[0,31],"reverse":true},"axis":null}},"layer":[
{"data":{"name":"days"},"mark":{"type":"rule","color":"black","strokeWidth":1.3},"encoding":{"x":{"field":"h","type":"quantitative","scale":{"domain":[0,120]},"axis":null},"y":{"datum":0,"type":"quantitative"},"y2":{"datum":21}}},
{"data":{"name":"labels"},"transform":[{"filter":"datum.p==5"}],"mark":{"type":"text","font":"DejaVu Sans Mono","fontWeight":"bold","fontSize":22,"align":"right","color":"black"},"encoding":{"x":{"field":"a","type":"quantitative"},"text":{"field":"day"}}},
{"data":{"name":"labels"},"transform":[{"filter":"datum.p==5"}],"mark":{"type":"text","font":"DejaVu Sans Mono","fontWeight":"bold","fontSize":22,"align":"left","color":"black"},"encoding":{"x":{"field":"b","type":"quantitative"},"text":{"field":"m"}}}]},
{"width":1073,"height":101,"data":{"name":"d6"},"mark":{"type":"rect","width":9.3,"height":7.3,"xOffset":4.47,"color":"black","clip":true},"encoding":{"x":{"field":"h","type":"quantitative","scale":{"domain":[0,120]},"axis":{"values":[0,6,12,18,24,30,36,42,48,54,60,66,72,78,84,90,96,102,108,114,120],"grid":true,"labels":false}},"y":{"field":"k","type":"quantitative","scale":{"domain":[0,16],"reverse":true},"axis":{"values":[0,4,8,12,16],"grid":true,"labelOffset":5,"labelExpr":"datum.value==4?'E':datum.value==8?'S':datum.value==12?'W':'N'"}}}},
{"width":1073,"height":170,"encoding":{"x":{"field":"h","type":"quantitative","scale":{"domain":[0,120],"padding":0},"axis":{"values":[0,120],"labels":false}}},"layer":[
{"data":{"name":"days"},"mark":{"type":"rule","color":"black","strokeWidth":1.3}},
{"data":{"name":"s6"},"mark":{"type":"bar","orient":"vertical","width":9.3,"xOffset":4.47,"color":"black","clip":true},"encoding":{"y":{"field":"v","type":"quantitative","scale":{"domain":[0,19.8]},"axis":{"values":[0,5,10,15],"grid":true,"gridDash":[3,2.2],"gridWidth":1.1,"labelOffset":{"condition":[{"test":"datum.value==0","value":-12},{"test":"datum.value==5","value":7}],"value":-3},"labelExpr":"datum.value==0?'0':datum.value==5?'m/s':datum.value==10?'10':''"}}}},
{"data":{"name":"s6"},"transform":[{"filter":"datum.h>0&&datum.h%6==0"}],"mark":{"type":"rule","color":"white","strokeWidth":1.3},"encoding":{"y":{"field":"v","type":"quantitative"},"y2":{"datum":0}}}]},
{"width":1073,"height":26,"encoding":{"y":{"datum":15,"type":"quantitative","scale":{"domain":[0,26],"reverse":true},"axis":null}},"layer":[
{"data":{"name":"days"},"mark":{"type":"rule","color":"black","strokeWidth":1.3},"encoding":{"x":{"field":"h","type":"quantitative","scale":{"domain":[0,120]},"axis":null},"y":{"datum":0,"type":"quantitative"},"y2":{"datum":21}}},
{"data":{"name":"labels"},"transform":[{"filter":"datum.p==6"}],"mark":{"type":"text","font":"DejaVu Sans Mono","fontWeight":"bold","fontSize":22,"align":"right","color":"black"},"encoding":{"x":{"field":"a","type":"quantitative"},"text":{"field":"day"}}},
{"data":{"name":"labels"},"transform":[{"filter":"datum.p==6"}],"mark":{"type":"text","font":"DejaVu Sans Mono","fontWeight":"bold","fontSize":22,"align":"left","color":"black"},"encoding":{"x":{"field":"b","type":"quantitative"},"text":{"field":"m"}}}]}
]}
